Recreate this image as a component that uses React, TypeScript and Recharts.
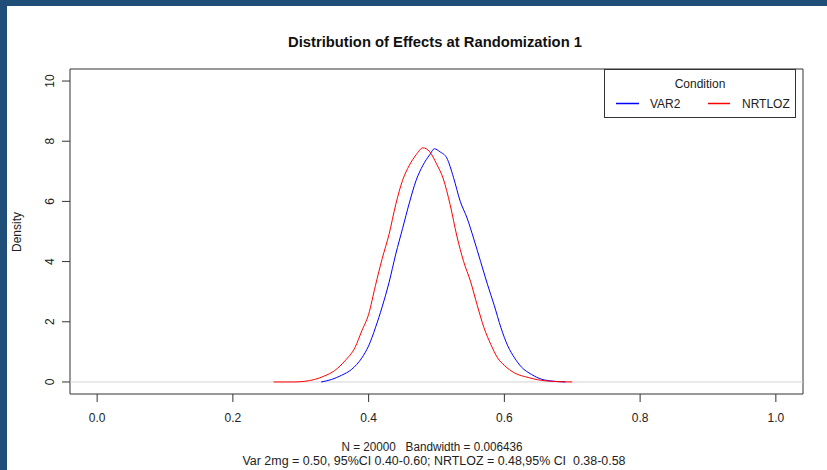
import React from "react";
import { LineChart, Line, XAxis, YAxis, ReferenceArea, ReferenceLine } from "recharts";

const seriesNames = ["VAR2", "NRTLOZ"];
const seriesColors = ["#0000ff", "#ff0000"];

const var2Effect = [0.33, 0.345, 0.36, 0.375, 0.39, 0.4, 0.41, 0.42, 0.43, 0.44, 0.45, 0.46, 0.47, 0.48, 0.49, 0.497, 0.505, 0.515, 0.525, 0.535, 0.545, 0.555, 0.565, 0.575, 0.585, 0.595, 0.605, 0.615, 0.625, 0.64, 0.655, 0.67, 0.69];
const var2Density = [0.0, 0.08, 0.22, 0.42, 0.8, 1.2, 1.8, 2.5, 3.3, 4.25, 5.1, 5.95, 6.7, 7.2, 7.55, 7.75, 7.65, 7.45, 6.8, 6.0, 5.45, 4.75, 4.0, 3.25, 2.55, 1.8, 1.2, 0.8, 0.5, 0.25, 0.09, 0.03, 0.0];

const nrtlozEffect = [0.26, 0.29, 0.305, 0.32, 0.335, 0.35, 0.365, 0.38, 0.39, 0.4, 0.41, 0.42, 0.43, 0.44, 0.45, 0.46, 0.47, 0.48, 0.49, 0.5, 0.51, 0.52, 0.53, 0.54, 0.55, 0.56, 0.57, 0.58, 0.59, 0.6, 0.615, 0.635, 0.65, 0.67, 0.7];
const nrtlozDensity = [0.0, 0.0, 0.02, 0.08, 0.2, 0.38, 0.7, 1.15, 1.7, 2.25, 3.2, 4.1, 4.9, 5.9, 6.7, 7.2, 7.55, 7.78, 7.65, 7.25, 6.75, 5.9, 4.85, 4.0, 3.35, 2.55, 1.8, 1.25, 0.8, 0.55, 0.3, 0.15, 0.07, 0.02, 0.0];

const xTicks = [0, 0.2, 0.4, 0.6, 0.8, 1.0];
const yTicks = [0, 2, 4, 6, 8, 10];

const titleText = "Distribution of Effects at Randomization 1";
const subLine1 = "N = 20000\u00a0\u00a0\u00a0Bandwidth = 0.006436";
const subLine2 = "Var 2mg = 0.50, 95%CI 0.40-0.60; NRTLOZ = 0.48,95% CI\u00a0\u00a00.38-0.58";
const yLabel = "Density";
const legendTitle = "Condition";

const var2Data = var2Effect.map((x, i) => ({ x, y: var2Density[i] }));
const nrtlozData = nrtlozEffect.map((x, i) => ({ x, y: nrtlozDensity[i] }));

const FONT = "'Liberation Sans', Arial, sans-serif";

const XTick = (props: any) => {
  const { x, y, payload } = props;
  return (
    <text x={x} y={y + 18} textAnchor="middle" fontSize={12} fontFamily={FONT} fill="#222">
      {Number(payload.value).toFixed(1)}
    </text>
  );
};

const YTick = (props: any) => {
  const { x, y, payload } = props;
  const bx = x - 6;
  return (
    <text x={bx} y={y} textAnchor="middle" fontSize={12} fontFamily={FONT} fill="#222" transform={`rotate(-90, ${bx}, ${y})`}>
      {payload.value}
    </text>
  );
};

export default function App() {
  return (
    <div style={{ position: "absolute", left: 0, top: 0, width: 827, height: 470, background: "#1f4e79", overflow: "hidden" }}>
      <div style={{ position: "absolute", left: 7, top: 6, width: 820, height: 464, background: "#ffffff" }} />
      <div style={{ position: "absolute", left: 0, top: 0 }}>
        <LineChart width={827} height={470} margin={{ top: 69, right: 24, left: 0, bottom: 0 }}>
          <XAxis
            dataKey="x"
            type="number"
            domain={[-0.04, 1.04]}
            ticks={xTicks}
            axisLine={false}
            tickLine={{ stroke: "#333" }}
            tickSize={8}
            tick={<XTick />}
            height={76}
            allowDataOverflow
          />
          <YAxis
            type="number"
            domain={[-0.4, 10.4]}
            ticks={yTicks}
            axisLine={false}
            tickLine={{ stroke: "#333" }}
            tickSize={8}
            tick={<YTick />}
            width={70}
            allowDataOverflow
          />
          <ReferenceLine y={0} stroke="#d4d4d4" strokeWidth={1} />
          <Line data={var2Data} dataKey="y" name={seriesNames[0]} stroke={seriesColors[0]} strokeWidth={1} dot={false} type="monotone" isAnimationActive={false} />
          <Line data={nrtlozData} dataKey="y" name={seriesNames[1]} stroke={seriesColors[1]} strokeWidth={1} dot={false} type="monotone" isAnimationActive={false} />
          <ReferenceArea x1={-0.04} x2={1.04} y1={-0.4} y2={10.4} fill="none" fillOpacity={0} stroke="#333" strokeWidth={1} ifOverflow="visible" />
        </LineChart>
      </div>
      <svg width={827} height={470} style={{ position: "absolute", left: 0, top: 0, pointerEvents: "none" }}>
        <text x={435} y={47} textAnchor="middle" fontSize={15} fontWeight="bold" fontFamily={FONT} fill="#111" textLength={294} lengthAdjust="spacingAndGlyphs">
          {titleText}
        </text>
        <text x={432} y={451} textAnchor="middle" fontSize={12} fontFamily={FONT} fill="#222" textLength={181} lengthAdjust="spacingAndGlyphs">
          {subLine1}
        </text>
        <text x={434} y={465} textAnchor="middle" fontSize={12} fontFamily={FONT} fill="#222" textLength={383} lengthAdjust="spacingAndGlyphs">
          {subLine2}
        </text>
        <text x={21} y={232} textAnchor="middle" fontSize={12} fontFamily={FONT} fill="#222" transform="rotate(-90, 21, 232)">
          {yLabel}
        </text>
        <rect x={604.5} y={69.5} width={191} height={48} fill="#fff" stroke="#333" strokeWidth={1} />
        <text x={700} y={88} textAnchor="middle" fontSize={12} fontFamily={FONT} fill="#222">{legendTitle}</text>
        <line x1={616} x2={639} y1={103.5} y2={103.5} stroke={seriesColors[0]} strokeWidth={1.5} />
        <text x={650} y={108} fontSize={12} fontFamily={FONT} fill="#222">{seriesNames[0]}</text>
        <line x1={708} x2={730} y1={103.5} y2={103.5} stroke={seriesColors[1]} strokeWidth={1.5} />
        <text x={742} y={108} fontSize={12} fontFamily={FONT} fill="#222">{seriesNames[1]}</text>
      </svg>
    </div>
  );
}
